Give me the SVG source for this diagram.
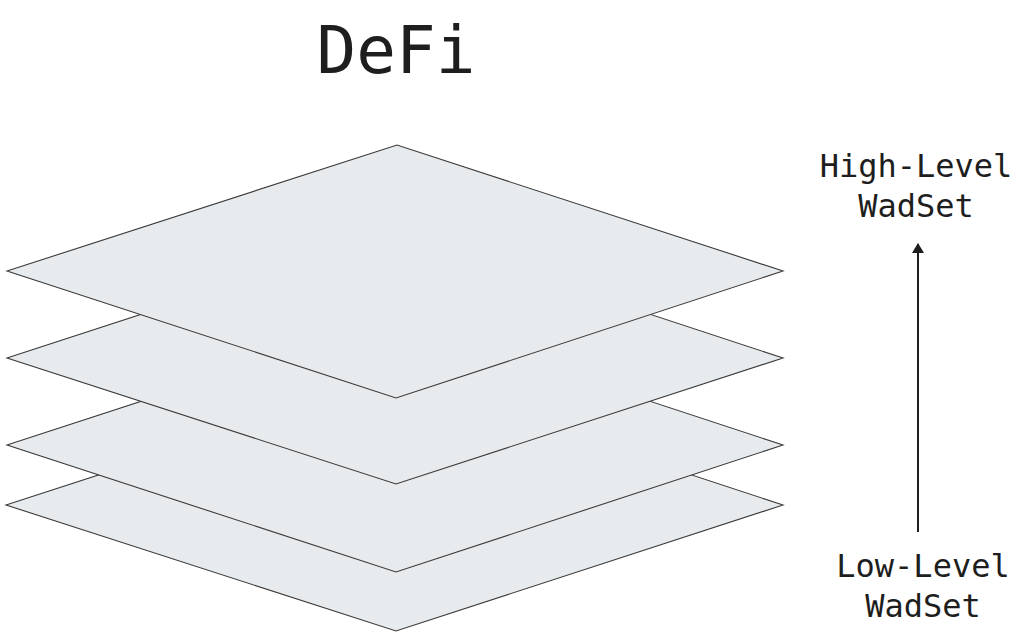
<svg xmlns="http://www.w3.org/2000/svg" width="1024" height="637" viewBox="0 0 1024 637">
<defs>
<style>
.layer{fill:#e8ebee;stroke:#3a3a3a;stroke-width:1.1;stroke-linejoin:miter}
.t{font-family:"DejaVu Sans Mono","Liberation Mono",monospace;fill:#1e1e1e;text-anchor:middle}
</style>
<marker id="ah" viewBox="0 0 10 12" refX="9" refY="6" markerWidth="10" markerHeight="12" orient="auto" markerUnits="userSpaceOnUse">
<path d="M0,0 L10,6 L0,12 z" fill="#1e1e1e"/>
</marker>
</defs>
<rect width="1024" height="637" fill="#ffffff"/>
<text class="t" x="396" y="73" font-size="66">DeFi</text>
<g id="layer4"><polygon class="layer" points="6,505 397,378 783,505 396,631"/></g>
<g id="layer3"><polygon class="layer" points="7,445 397,318 783,445 396,572"/></g>
<g id="layer2"><polygon class="layer" points="7,358 397,231 783,358 396,484"/></g>
<g id="layer1"><polygon class="layer" points="7,271 397,145 783,271 396,398"/></g>
<g id="high"><text class="t" x="916" y="177" font-size="32">High-Level</text><text class="t" x="916" y="217" font-size="32">WadSet</text></g>
<g id="low"><text class="t" x="923" y="577" font-size="32">Low-Level</text><text class="t" x="923" y="617" font-size="32">WadSet</text></g>
<g id="connectors"><line x1="918" y1="532" x2="918" y2="244" stroke="#1e1e1e" stroke-width="2" marker-end="url(#ah)"/></g>
</svg>
